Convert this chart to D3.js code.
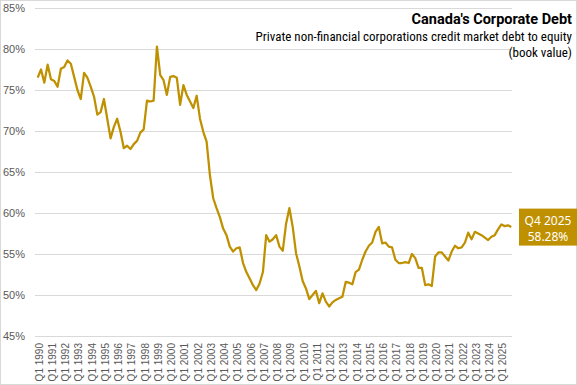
<!DOCTYPE html>
<html>
<head>
<meta charset="utf-8">
<script src="https://cdn.jsdelivr.net/npm/d3@7"></script>
<style>
  body { margin: 0; background: #fff; }
  svg { display: block; }
</style>
</head>
<body>
<svg id="chart" width="577" height="385"></svg>
<script>
// quarterly debt-to-equity ratio, Q1 1990 .. Q4 2025 (%)
var firstYear = 1990, lastYear = 2025;
var values = [
  76.5, 77.5, 75.9, 78.1, 76.3, 76.1, 75.4, 77.6, 77.8, 78.6,
  78.2, 76.6, 75.0, 73.9, 77.1, 76.5, 75.4, 74.2, 72.0, 72.3,
  73.9, 71.5, 69.1, 70.5, 71.5, 69.9, 67.9, 68.2, 67.8, 68.4,
  68.8, 69.8, 70.2, 73.7, 73.6, 73.7, 80.3, 76.8, 76.2, 74.4,
  76.6, 76.7, 76.5, 73.2, 75.6, 74.4, 73.6, 72.8, 74.3, 71.5,
  69.9, 68.7, 64.6, 61.8, 60.6, 59.5, 58.1, 57.3, 55.9, 55.3,
  55.7, 55.8, 53.9, 52.8, 52.0, 51.2, 50.6, 51.4, 52.8, 57.3,
  56.5, 56.8, 57.3, 55.9, 55.4, 58.7, 60.6, 58.3, 55.1, 53.5,
  51.7, 50.8, 49.5, 50.0, 50.5, 49.0, 50.2, 49.2, 48.6, 49.1,
  49.4, 49.6, 49.8, 51.6, 51.5, 51.3, 52.8, 53.1, 54.3, 55.3,
  56.0, 56.4, 57.7, 58.3, 56.3, 56.4, 55.9, 55.8, 54.3, 53.9,
  53.9, 54.0, 53.9, 55.0, 54.5, 53.3, 53.3, 51.2, 51.3, 51.1,
  54.7, 55.2, 55.2, 54.7, 54.2, 55.3, 56.0, 55.7, 55.8, 56.4,
  57.6, 56.8, 57.7, 57.5, 57.3, 57.0, 56.7, 57.1, 57.3, 58.0,
  58.6, 58.4, 58.5, 58.28
];
var yTicks = [45, 50, 55, 60, 65, 70, 75, 80, 85];
var title = "Canada's Corporate Debt";
var subtitle = ["Private non-financial corporations credit market debt to equity", "(book value)"];

var quarters = [];
for (var yr = firstYear; yr <= lastYear; yr++) {
  for (var q = 1; q <= 4; q++) quarters.push("Q" + q + " " + yr);
}
var data = quarters.map(function(d, i) { return {q: d, v: values[i]}; });
var last = data[data.length - 1];

var gold = "#BF9000";
var svg = d3.select("#chart");

// outer chart frame
svg.append("rect")
   .attr("x", 0.5).attr("y", 0.5)
   .attr("width", 576).attr("height", 384)
   .attr("fill", "#fff")
   .attr("stroke", "#d9d9d9");

var x = d3.scalePoint().domain(quarters).range([37.7, 511.3]);
var y = d3.scaleLinear().domain([45, 85]).range([336, 8]);

// gridlines + y labels
var yAxis = d3.axisLeft(y)
              .tickValues(yTicks)
              .tickSize(-477)
              .tickPadding(9)
              .tickFormat(function(d) { return d + "%"; });
var gy = svg.append("g")
            .attr("transform", "translate(35,0)")
            .call(yAxis);
gy.select(".domain").remove();
gy.selectAll(".tick line").attr("stroke", "#d9d9d9").attr("stroke-width", 1);
gy.selectAll(".tick text")
  .attr("x", -10)
  .attr("fill", "#595959")
  .style("font-family", "Liberation Sans, Arial, sans-serif")
  .style("font-size", "11px");

// x labels, Q1 of every year
var xAxis = d3.axisBottom(x)
              .tickValues(quarters.filter(function(d) { return d.indexOf("Q1") === 0; }))
              .tickSize(0);
var gx = svg.append("g")
            .attr("transform", "translate(1,336)")
            .call(xAxis);
gx.select(".domain").remove();
gx.selectAll(".tick text")
  .attr("transform", "rotate(-90)")
  .attr("x", -7)
  .attr("y", 0)
  .attr("dy", "0.35em")
  .attr("text-anchor", "end")
  .attr("fill", "#595959")
  .style("font-family", "Liberation Sans, Arial, sans-serif")
  .style("font-size", "10px");

// the series
var line = d3.line()
             .x(function(d) { return x(d.q); })
             .y(function(d) { return y(d.v); });
svg.append("path")
   .datum(data)
   .attr("d", line)
   .attr("fill", "none")
   .attr("stroke", gold)
   .attr("stroke-width", 2.25)
   .attr("stroke-linejoin", "round");

// last value callout
var box = svg.append("g").attr("transform", "translate(519," + (y(last.v) - 18.5) + ")");
box.append("rect")
   .attr("width", 58).attr("height", 37)
   .attr("fill", gold);
box.append("text")
   .attr("x", 29).attr("y", 16)
   .attr("text-anchor", "middle")
   .attr("fill", "#fff")
   .style("font-family", "Noto Sans, sans-serif")
   .style("font-size", "12px")
   .text(last.q);
box.append("text")
   .attr("x", 29).attr("y", 32)
   .attr("text-anchor", "middle")
   .attr("fill", "#fff")
   .style("font-family", "Noto Sans, sans-serif")
   .style("font-size", "12px")
   .text(d3.format(".2f")(last.v) + "%");

// titles
svg.append("text")
   .attr("x", 572).attr("y", 24)
   .attr("text-anchor", "end")
   .attr("fill", "#000")
   .style("font-family", "Roboto, Noto Sans, sans-serif")
   .style("font-weight", "bold")
   .style("font-size", "14.5px")
   .text(title);
svg.selectAll(".sub")
   .data(subtitle)
   .enter().append("text")
   .attr("class", "sub")
   .attr("x", 572)
   .attr("y", function(d, i) { return 41 + i * 16; })
   .attr("text-anchor", "end")
   .attr("fill", "#000")
   .style("font-family", "Liberation Sans Narrow, Roboto Condensed, sans-serif")
   .style("font-size", "13px")
   .text(function(d) { return d; });
</script>
</body>
</html>
